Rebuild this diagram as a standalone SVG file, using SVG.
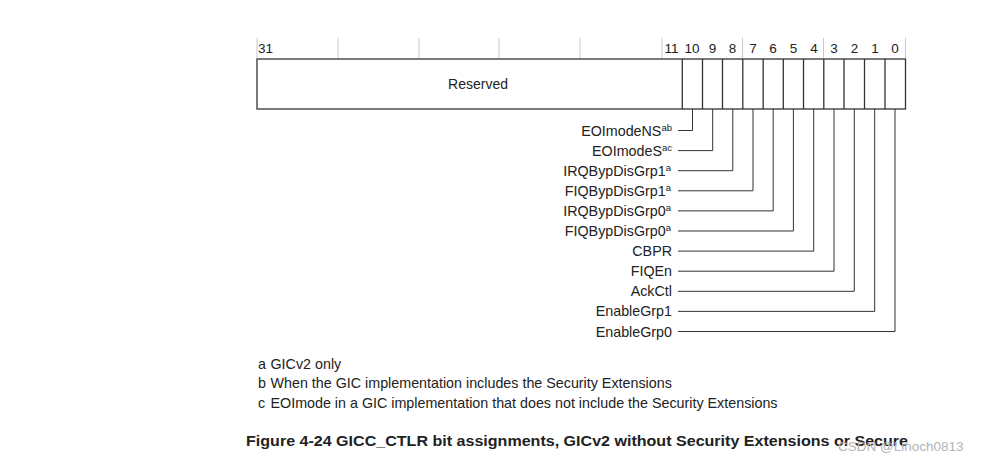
<svg xmlns="http://www.w3.org/2000/svg" width="981" height="462" viewBox="0 0 981 462">
<style>
text{font-family:"Liberation Sans",Arial,sans-serif;fill:#222}
.bit{font-size:13.5px;text-anchor:middle}
.lbl{font-size:14.3px;text-anchor:end}
.sup{font-size:9.5px}
.fn{font-size:14.3px}
.cap{font-size:14.5px;font-weight:bold}
.tick{stroke:#c8c8c8;stroke-width:1}
.cell{stroke:#333;stroke-width:1.3;fill:none}
.lead{stroke:#333;stroke-width:1;fill:none}
</style>
<rect width="981" height="462" fill="#fff"/>
<g id="header">
<line class="tick" x1="257" y1="38" x2="257" y2="58"/>
<line class="tick" x1="338" y1="38" x2="338" y2="58"/>
<line class="tick" x1="419" y1="38" x2="419" y2="58"/>
<line class="tick" x1="499" y1="38" x2="499" y2="58"/>
<line class="tick" x1="580" y1="38" x2="580" y2="58"/>
<line class="tick" x1="662" y1="38" x2="662" y2="58"/>
<line class="tick" x1="742.5" y1="38" x2="742.5" y2="58"/>
<line class="tick" x1="823.5" y1="38" x2="823.5" y2="58"/>
<line class="tick" x1="905.5" y1="38" x2="905.5" y2="58"/>
<text class="bit" x="258" y="53" style="text-anchor:start">31</text>
<text class="bit" x="671.5" y="53">11</text>
<text class="bit" x="692" y="53">10</text>
<text class="bit" x="712.5" y="53">9</text>
<text class="bit" x="732.5" y="53">8</text>
<text class="bit" x="753" y="53">7</text>
<text class="bit" x="773" y="53">6</text>
<text class="bit" x="793.5" y="53">5</text>
<text class="bit" x="814" y="53">4</text>
<text class="bit" x="834" y="53">3</text>
<text class="bit" x="854.5" y="53">2</text>
<text class="bit" x="875" y="53">1</text>
<text class="bit" x="895" y="53">0</text>
</g>
<g id="register">
<rect class="cell" x="257" y="59" width="648.5" height="50" stroke-width="1.6"/>
<text x="478" y="89" style="font-size:14px;text-anchor:middle">Reserved</text>
<line class="cell" x1="682.3" y1="59" x2="682.3" y2="109"/>
<line class="cell" x1="702.5" y1="59" x2="702.5" y2="109"/>
<line class="cell" x1="722.5" y1="59" x2="722.5" y2="109"/>
<line class="cell" x1="742.8" y1="59" x2="742.8" y2="109"/>
<line class="cell" x1="763.2" y1="59" x2="763.2" y2="109"/>
<line class="cell" x1="783.3" y1="59" x2="783.3" y2="109"/>
<line class="cell" x1="803.5" y1="59" x2="803.5" y2="109"/>
<line class="cell" x1="823.8" y1="59" x2="823.8" y2="109"/>
<line class="cell" x1="844" y1="59" x2="844" y2="109"/>
<line class="cell" x1="864.5" y1="59" x2="864.5" y2="109"/>
<line class="cell" x1="885" y1="59" x2="885" y2="109"/>
</g>
<g id="connectors">
<polyline class="lead" points="678,130.5 692.5,130.5 692.5,109"/>
<polyline class="lead" points="678,150.6 712.7,150.6 712.7,109"/>
<polyline class="lead" points="678,170.7 732.8,170.7 732.8,109"/>
<polyline class="lead" points="678,190.8 753,190.8 753,109"/>
<polyline class="lead" points="678,210.9 773.2,210.9 773.2,109"/>
<polyline class="lead" points="678,231 793.4,231 793.4,109"/>
<polyline class="lead" points="678,251.1 813.7,251.1 813.7,109"/>
<polyline class="lead" points="678,271.2 834,271.2 834,109"/>
<polyline class="lead" points="678,291.3 854.3,291.3 854.3,109"/>
<polyline class="lead" points="678,311.4 874.7,311.4 874.7,109"/>
<polyline class="lead" points="678,331.5 895,331.5 895,109"/>
</g>
<g id="labels">
<text class="lbl" x="672" y="135.5">EOImodeNS<tspan class="sup" dy="-5">ab</tspan></text>
<text class="lbl" x="672" y="155.6">EOImodeS<tspan class="sup" dy="-5">ac</tspan></text>
<text class="lbl" x="671" y="175.7">IRQBypDisGrp1<tspan class="sup" dy="-5">a</tspan></text>
<text class="lbl" x="671" y="195.8">FIQBypDisGrp1<tspan class="sup" dy="-5">a</tspan></text>
<text class="lbl" x="671" y="215.9">IRQBypDisGrp0<tspan class="sup" dy="-5">a</tspan></text>
<text class="lbl" x="671" y="236">FIQBypDisGrp0<tspan class="sup" dy="-5">a</tspan></text>
<text class="lbl" x="672" y="256.1">CBPR</text>
<text class="lbl" x="672" y="276.2">FIQEn</text>
<text class="lbl" x="672" y="296.3">AckCtl</text>
<text class="lbl" x="672" y="316.4">EnableGrp1</text>
<text class="lbl" x="672" y="336.5">EnableGrp0</text>
</g>
<g id="footnotes">
<text class="fn" x="258" y="369">a</text>
<text class="fn" x="270.5" y="369">GICv2 only</text>
<text class="fn" x="258" y="388">b</text>
<text class="fn" x="270.5" y="388">When the GIC implementation includes the Security Extensions</text>
<text class="fn" x="258" y="408">c</text>
<text class="fn" x="270.5" y="408">EOImode in a GIC implementation that does not include the Security Extensions</text>
</g>
<text class="cap" x="246" y="446" textLength="662" lengthAdjust="spacingAndGlyphs">Figure 4-24 GICC_CTLR bit assignments, GICv2 without Security Extensions or Secure</text>
<text x="838" y="451" style="font-size:13.5px;fill:#b4b4b4">CSDN @Linoch0813</text>
</svg>
